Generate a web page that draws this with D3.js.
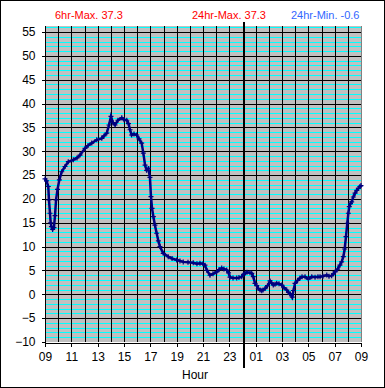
<!DOCTYPE html>
<html>
<head>
<meta charset="utf-8">
<script src="https://cdnjs.cloudflare.com/ajax/libs/d3/7.8.5/d3.min.js"></script>
<style>
  body { margin: 0; background: #fff; }
  svg { display: block; font-family: "Liberation Sans", Arial, sans-serif; }
</style>
</head>
<body>
<div id="chart"></div>
<script>
// hours after 09:00 and temperature
var hours = [0, 0.11, 0.25, 0.30, 0.38, 0.43, 0.49, 0.58, 0.68, 0.76, 0.84, 0.95, 1.09, 1.27, 1.52, 1.77,
  2.15, 2.43, 2.66, 3.04, 3.27, 3.55, 3.93, 4.31, 4.48, 4.69, 4.86, 5.01, 5.16, 5.32, 5.54, 5.83,
  6.00, 6.21, 6.34, 6.46, 6.58, 6.76, 6.96, 7.14, 7.34, 7.47, 7.60, 7.72, 7.85, 7.97, 8.05, 8.13,
  8.23, 8.35, 8.48, 8.61, 8.73, 8.98, 9.36, 9.65, 10.00, 10.25, 10.50, 10.86, 11.26, 11.54, 11.77,
  12.00, 12.15, 12.30, 12.53, 12.76, 13.04, 13.22, 13.42, 13.59, 13.80, 13.94, 14.05, 14.28, 14.56,
  14.73, 14.94, 15.08, 15.19, 15.34, 15.57, 15.70, 15.82, 15.95, 16.08, 16.20, 16.33, 16.46, 16.56,
  16.71, 16.90, 17.09, 17.20, 17.34, 17.47, 17.60, 17.77, 17.98, 18.15, 18.36, 18.49, 18.61, 18.72,
  18.78, 18.87, 18.99, 19.18, 19.37, 19.52, 19.75, 20.00, 20.26, 20.51, 20.73, 20.89, 21.11, 21.40,
  21.57, 21.77, 21.91, 22.03, 22.22, 22.40, 22.53, 22.66, 22.76, 22.86, 22.96, 23.04, 23.11, 23.20,
  23.29, 23.42, 23.55, 23.68, 23.80, 23.92, 24.00];
var temps = [24.2, 23.8, 22.6, 19.8, 17.0, 15.0, 14.2, 13.6, 14.0, 16.5, 19.8, 22.0, 24.0, 25.7, 26.8, 27.8,
  28.2, 28.6, 29.2, 30.6, 31.2, 31.7, 32.4, 32.7, 33.2, 33.8, 35.5, 37.3, 36.0, 35.5, 36.5, 37.0,
  36.6, 36.5, 35.8, 34.5, 33.4, 33.6, 33.4, 32.6, 31.7, 29.6, 27.1, 26.0, 26.4, 24.5, 20.5, 18.0,
  16.3, 14.5, 12.8, 11.2, 10.0, 8.6, 7.9, 7.5, 7.2, 7.0, 6.8, 6.7, 6.6, 6.4, 6.5,
  6.4, 6.1, 5.0, 4.0, 4.3, 4.7, 5.2, 5.5, 5.3, 5.1, 4.5, 3.6, 3.4, 3.4,
  3.5, 3.7, 4.2, 4.4, 4.6, 4.5, 4.4, 3.7, 2.3, 1.8, 1.2, 0.9, 0.75, 0.9,
  1.2, 1.8, 2.8, 2.4, 1.95, 2.1, 2.3, 2.2, 1.95, 1.4, 0.9, 0.4, 0.1, -0.3,
  -0.6, 0.8, 2.3, 2.9, 3.4, 3.7, 3.7, 3.2, 3.7, 3.6, 3.7, 3.7, 3.8, 4.05,
  3.8, 3.9, 4.3, 4.7, 5.3, 6.1, 6.8, 7.9, 9.5, 12.1, 14.9, 17.0, 18.4, 19.0,
  19.4, 20.4, 21.2, 21.8, 22.2, 22.6, 22.8];
var hourLabels = ["09", "11", "13", "15", "17", "19", "21", "23", "01", "03", "05", "07", "09"];
var yTicks = [-10, -5, 0, 5, 10, 15, 20, 25, 30, 35, 40, 45, 50, 55];
var titles = [
  { text: "6hr-Max. 37.3", color: "#ff0000" },
  { text: "24hr-Max. 37.3", color: "#ff0000" },
  { text: "24hr-Min. -0.6", color: "#3366ff" }
];

(function() {
  var width = 385, height = 388;
  var pLeft = 45, pRight = 361, pTop = 26, pBottom = 342;

  var x = d3.scaleLinear().domain([0, 24]).range([pLeft, pRight]);
  var y = d3.scaleLinear().domain([-10, 55]).range([pBottom, 32]);
  var yTop = y.invert(pTop);

  var svg = d3.select("#chart").append("svg")
    .attr("width", width)
    .attr("height", height);

  svg.append("rect")
    .attr("x", 0.5).attr("y", 0.5)
    .attr("width", width - 1).attr("height", height - 1)
    .attr("fill", "#fff").attr("stroke", "#000");

  // plot background
  svg.append("rect")
    .attr("x", pLeft).attr("y", pTop)
    .attr("width", pRight - pLeft).attr("height", pBottom - pTop)
    .attr("fill", "#c0c0c0");

  function px(v) { return Math.round(v) + 0.5; }

  // minor cyan lines every degree
  var minor = d3.range(-9, Math.floor(yTop) + 1).filter(function(d) { return d % 5 !== 0; });
  svg.append("g").selectAll("line")
    .data(minor)
    .enter().append("line")
    .attr("x1", pLeft).attr("x2", pRight)
    .attr("y1", function(d) { return px(y(d)); })
    .attr("y2", function(d) { return px(y(d)); })
    .attr("stroke", "#00ffff")
    .attr("shape-rendering", "crispEdges");

  // major black lines every 5 degrees
  svg.append("g").selectAll("line")
    .data(yTicks.filter(function(d) { return d > -10; }))
    .enter().append("line")
    .attr("x1", pLeft).attr("x2", pRight)
    .attr("y1", function(d) { return px(y(d)); })
    .attr("y2", function(d) { return px(y(d)); })
    .attr("stroke", "#000")
    .attr("shape-rendering", "crispEdges");

  // hourly vertical lines
  svg.append("g").selectAll("line")
    .data(d3.range(1, 24))
    .enter().append("line")
    .attr("x1", function(d) { return px(x(d)); })
    .attr("x2", function(d) { return px(x(d)); })
    .attr("y1", pTop).attr("y2", pBottom)
    .attr("stroke", "#000")
    .attr("shape-rendering", "crispEdges");

  // right border of plot
  svg.append("line")
    .attr("x1", px(pRight)).attr("x2", px(pRight))
    .attr("y1", pTop).attr("y2", pBottom)
    .attr("stroke", "#808080")
    .attr("shape-rendering", "crispEdges");

  // midnight marker
  svg.append("line")
    .attr("x1", Math.round(x(15)) + 1).attr("x2", Math.round(x(15)) + 1)
    .attr("y1", 22).attr("y2", 368)
    .attr("stroke", "#000")
    .attr("stroke-width", 2)
    .attr("shape-rendering", "crispEdges");

  // axes
  var yAxis = svg.append("g")
    .attr("transform", "translate(" + (pLeft + 0.5) + ",0)")
    .call(d3.axisLeft(y).tickValues(yTicks).tickSize(4).tickPadding(6).tickSizeOuter(0));
  yAxis.select(".domain").attr("d", "M0," + pTop + "V" + pBottom);

  svg.append("g")
    .attr("transform", "translate(0," + (pBottom + 0.5) + ")")
    .call(d3.axisBottom(x).tickValues(d3.range(0, 25, 2)).tickSize(4).tickPadding(6).tickSizeOuter(0)
      .tickFormat(function(d, i) { return hourLabels[i]; }));

  svg.selectAll(".tick line, .domain").attr("stroke", "#000").attr("shape-rendering", "crispEdges");
  svg.selectAll(".tick text").attr("fill", "#000").attr("font-size", "12px")
    .attr("font-family", "'Liberation Sans', Arial, sans-serif");

  svg.append("text")
    .attr("x", 195).attr("y", 379)
    .attr("text-anchor", "middle")
    .attr("font-size", "12px")
    .text("Hour");

  // titles
  var titleX = [55, 192, 291];
  svg.selectAll(".title")
    .data(titles)
    .enter().append("text")
    .attr("class", "title")
    .attr("x", function(d, i) { return titleX[i]; })
    .attr("y", 19)
    .attr("font-size", "11px")
    .attr("fill", function(d) { return d.color; })
    .text(function(d) { return d.text; });

  // temperature series
  var points = hours.map(function(h, i) { return [h, temps[i]]; });
  var line = d3.line()
    .x(function(d) { return x(d[0]); })
    .y(function(d) { return y(d[1]); });

  svg.append("path")
    .datum(points)
    .attr("d", line)
    .attr("fill", "none")
    .attr("stroke", "#000080")
    .attr("stroke-width", 2.5);

  svg.append("g").selectAll("path")
    .data(points)
    .enter().append("path")
    .attr("d", function(d) {
      var cx = x(d[0]), cy = y(d[1]);
      return "M" + (cx - 2.5) + "," + cy + "H" + (cx + 2.5) + "M" + cx + "," + (cy - 2.5) + "V" + (cy + 2.5);
    })
    .attr("stroke", "#000080")
    .attr("stroke-width", 1.2);
})();
</script>
</body>
</html>
